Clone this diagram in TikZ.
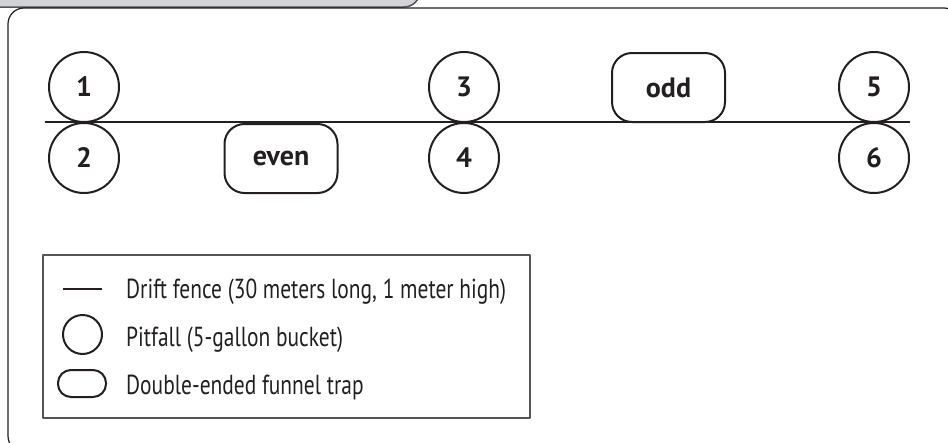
\documentclass[tikz,border=0pt]{standalone}
\usepackage{fontspec}
\setsansfont{PT Sans}
\newfontfamily\legfont[FakeStretch=0.78]{PT Sans}
\newfontfamily\numfont{PT Sans}
\definecolor{ink}{RGB}{35,31,32}
\definecolor{tabgray}{RGB}{210,211,213}
\definecolor{edgegray}{RGB}{85,85,85}
\begin{document}
\begin{tikzpicture}[x=1pt,y=-1pt,line join=round,
  pit/.style={circle,draw=ink,line width=2pt,minimum size=70pt,inner sep=0pt,
    text=ink,font=\numfont\bfseries\fontsize{28}{28}\selectfont},
  trapbox/.style={rectangle,rounded corners=20pt,draw=ink,line width=2pt,inner sep=0pt,
    minimum width=113pt,minimum height=69pt,text=ink,font=\numfont\bfseries\fontsize{28}{28}\selectfont},
  legtext/.style={anchor=base west,inner sep=0pt,text=ink,font=\legfont\fontsize{27.5}{27.5}\selectfont},
  fence/.style={draw=ink,line width=2pt}]
\useasboundingbox (0,0) rectangle (948,442);
% header tab and frame
\node[draw=edgegray,line width=1.5pt,fill=tabgray,rounded corners=16pt,inner sep=0pt,
  minimum width=440pt,minimum height=60pt] (tab) at (200,-23) {};
\node[draw=ink,line width=1.2pt,rounded corners=16pt,inner sep=0pt,
  minimum width=952pt,minimum height=444pt] (frame) at (484,230) {};
% fence
\coordinate (fl) at (45,122);
\coordinate (fr) at (910,122);
\draw[fence] (fl) -- (fr);
% pitfalls
\node[pit] (p1) at (84,87) {1};
\node[pit] (p2) at (84,158) {2};
\node[pit] (p3) at (464,87) {3};
\node[pit] (p4) at (464,158) {4};
\node[pit] (p5) at (874,87) {5};
\node[pit] (p6) at (874,158) {6};
% funnel traps
\node[trapbox] (even) at (281,158.5) {even};
\node[trapbox] (odd) at (668.5,87.5) {odd};
% legend
\node[draw=edgegray,line width=1.5pt,inner sep=0pt,minimum width=487pt,minimum height=163pt] (legend) at (286.5,336.5) {};
\coordinate (ll) at (63,289);
\coordinate (lr) at (102,289);
\draw[fence] (ll) -- (lr);
\node[circle,draw=ink,line width=2pt,minimum size=39pt,inner sep=0pt] (lpit) at (82.5,334.5) {};
\node[rectangle,rounded corners=13pt,draw=ink,line width=2pt,minimum width=48pt,minimum height=27pt,inner sep=0pt] (ltrap) at (82,383.5) {};
\node[legtext] (t1) at (126,298) {Drift fence (30 meters long, 1 meter high)};
\node[legtext] (t2) at (126,346.5) {Pitfall (5-gallon bucket)};
\node[legtext] (t3) at (126,394) {Double-ended funnel trap};
\end{tikzpicture}
\end{document}
